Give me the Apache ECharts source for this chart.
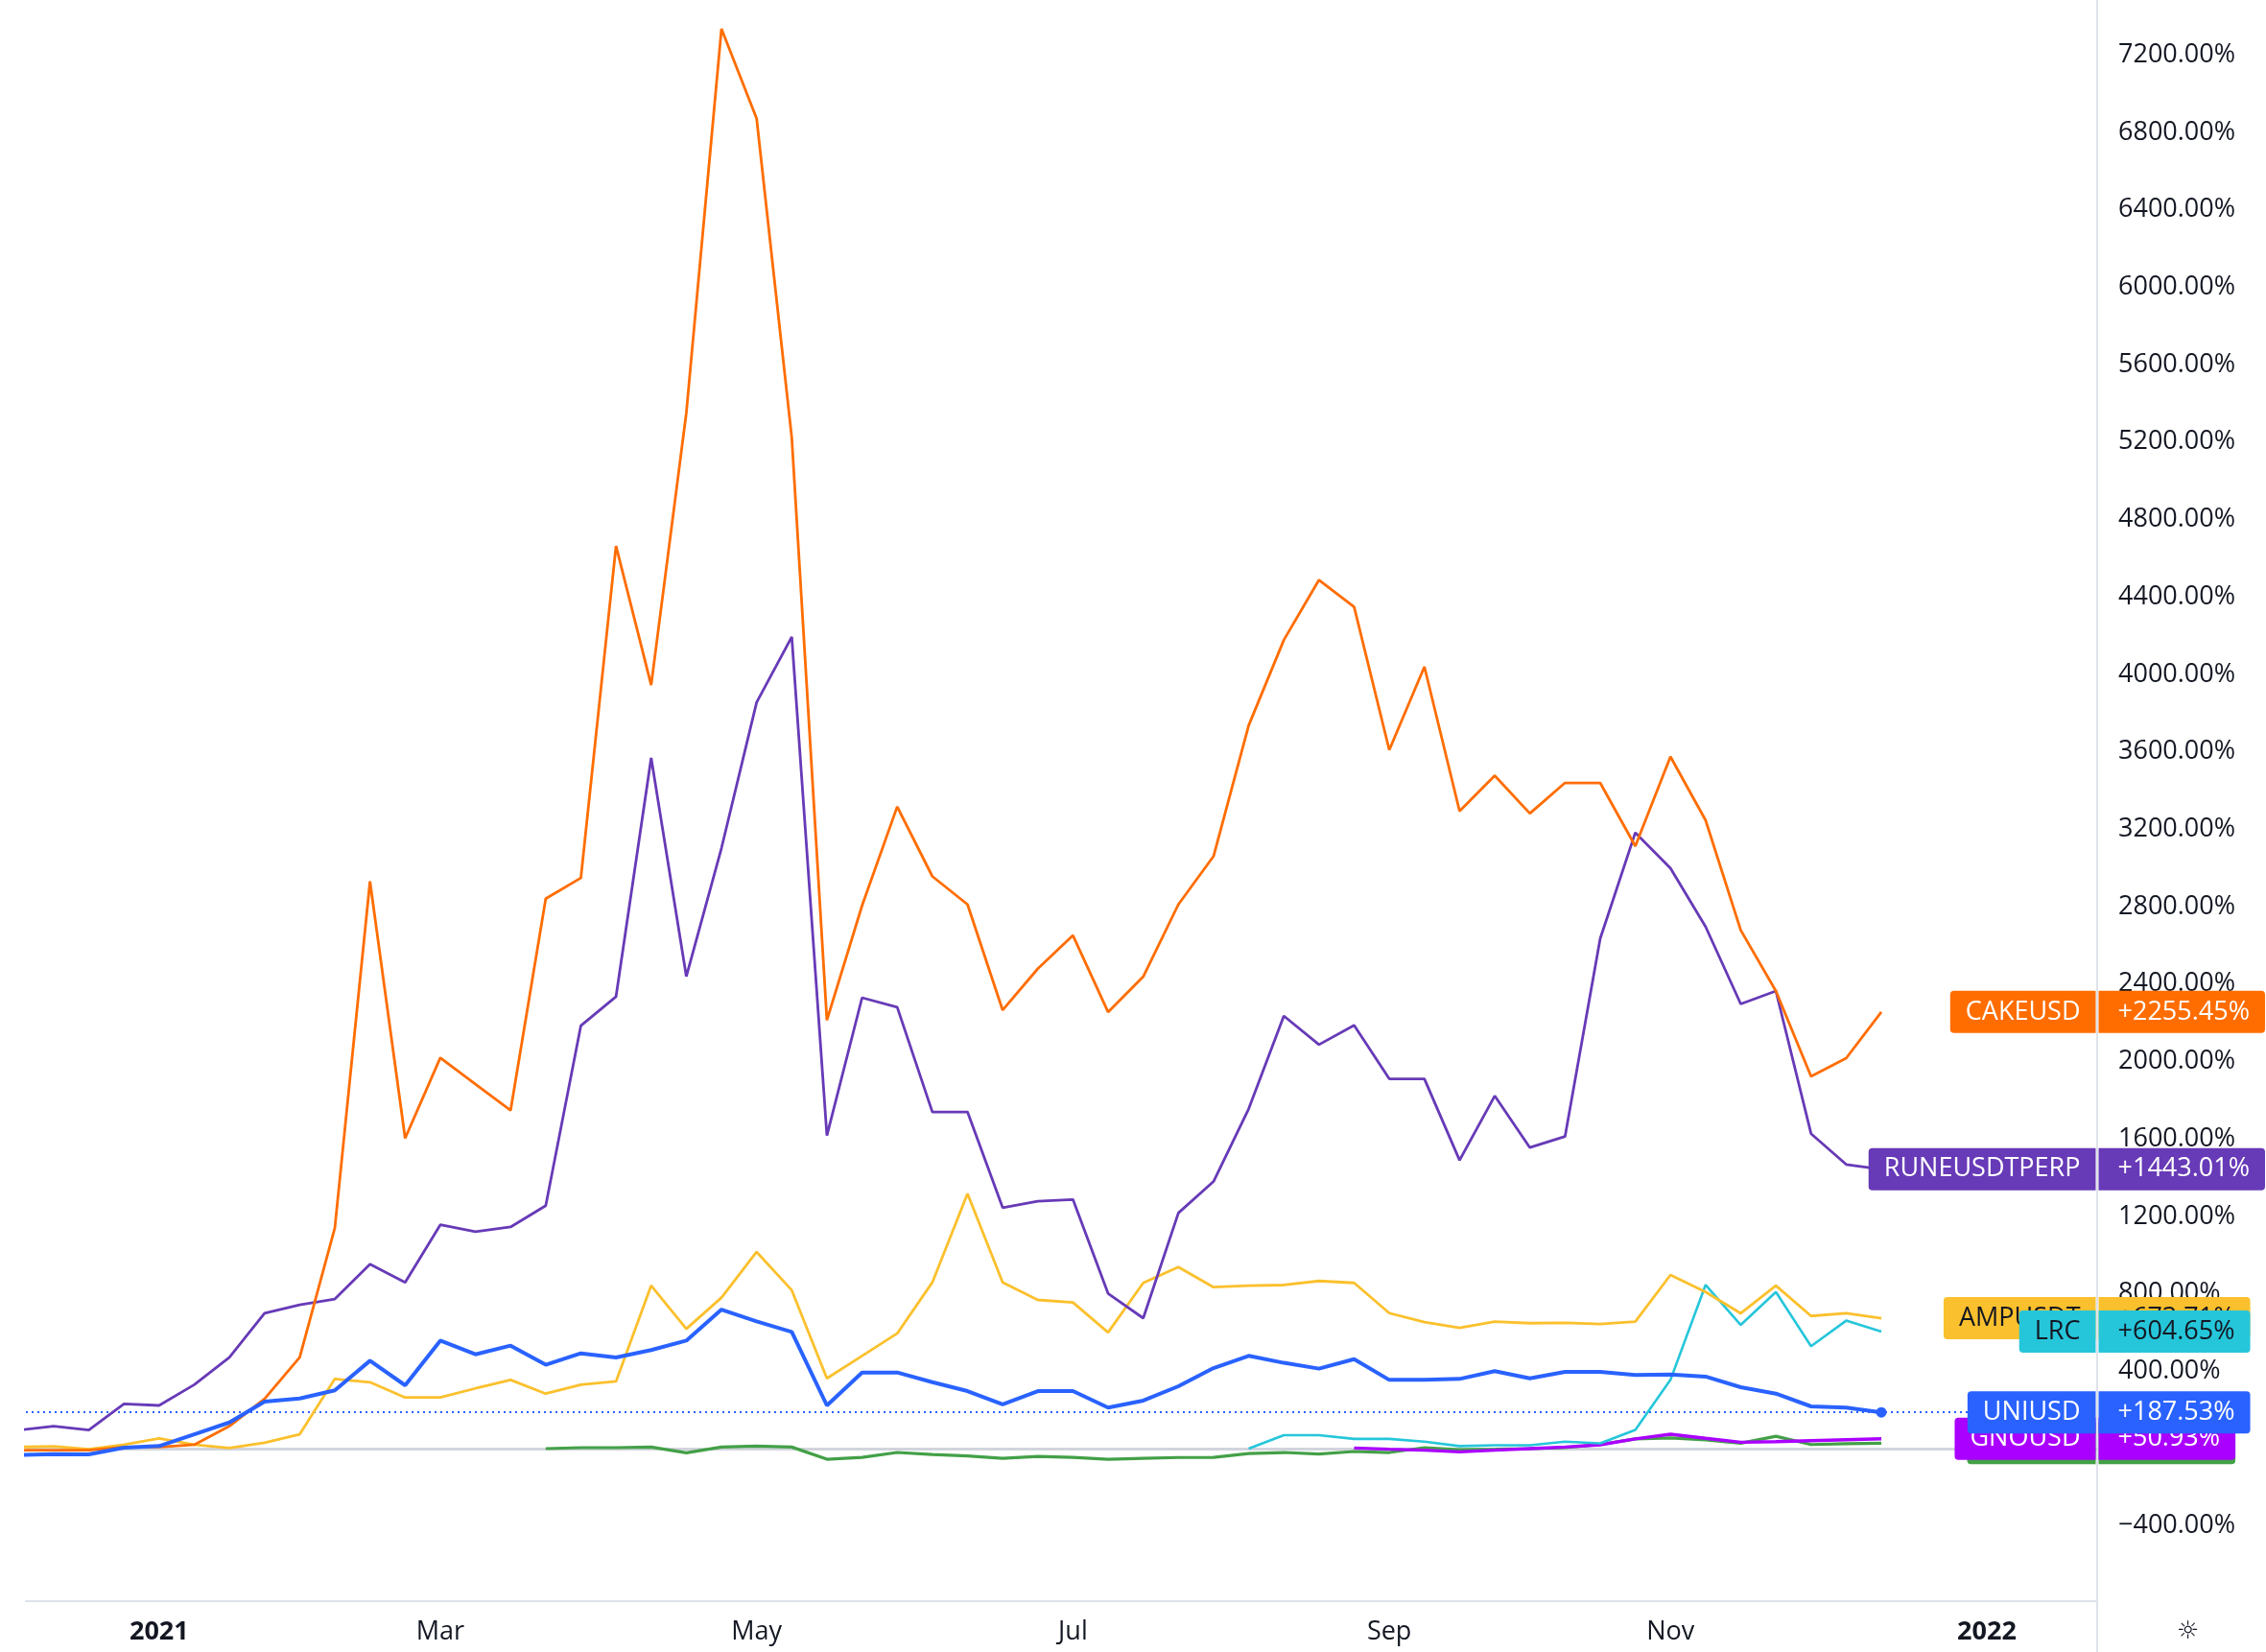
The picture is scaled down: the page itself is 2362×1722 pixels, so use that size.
<!DOCTYPE html>
<html>
<head>
<meta charset="utf-8">
<title>Comparaison hebdomadaire</title>
<script src="https://cdn.jsdelivr.net/npm/echarts@6/dist/echarts.min.js"></script>
<style>
  html, body { margin: 0; padding: 0; background: #ffffff; }
  #chartContainer { width: 2362px; height: 1722px; }
</style>
</head>
<body>
<div id="chartContainer"></div>
<script>
// barres hebdomadaires (lundi de chaque semaine)
const weeks = [
  '2020-12-07', '2020-12-14', '2020-12-21', '2020-12-28',
  '2021-01-04', '2021-01-11', '2021-01-18', '2021-01-25', '2021-02-01', '2021-02-08', '2021-02-15', '2021-02-22',
  '2021-03-01', '2021-03-08', '2021-03-15', '2021-03-22', '2021-03-29', '2021-04-05', '2021-04-12', '2021-04-19',
  '2021-04-26', '2021-05-03', '2021-05-10', '2021-05-17', '2021-05-24', '2021-05-31', '2021-06-07', '2021-06-14',
  '2021-06-21', '2021-06-28', '2021-07-05', '2021-07-12', '2021-07-19', '2021-07-26', '2021-08-02', '2021-08-09',
  '2021-08-16', '2021-08-23', '2021-08-30', '2021-09-06', '2021-09-13', '2021-09-20', '2021-09-27', '2021-10-04',
  '2021-10-11', '2021-10-18', '2021-10-25', '2021-11-01', '2021-11-08', '2021-11-15', '2021-11-22', '2021-11-29',
  '2021-12-06', '2021-12-13'
];

const cakeValues = [
  -8, -8, -8, 8,
  8, 20, 116, 257, 471, 1140, 2930, 1603,
  2019, 1883, 1747, 2841, 2948, 4663, 3944, 5350,
  7334, 6871, 5223, 2213, 2805, 3316, 2956, 2811,
  2265, 2479, 2651, 2255, 2438, 2811, 3060, 3736,
  4177, 4487, 4348, 3609, 4039, 3293, 3476, 3281,
  3439, 3439, 3112, 3574, 3246, 2678, 2364, 1923,
  2017, 2255.45
];

const runeValues = [
  95, 116, 96, 231,
  223, 330, 471, 699, 743, 773, 953, 859,
  1156, 1120, 1145, 1255, 2185, 2335, 3568, 2439,
  3102, 3855, 4193, 1617, 2329, 2280, 1739, 1739,
  1245, 1278, 1287, 801, 674, 1217, 1380, 1755,
  2235, 2087, 2187, 1910, 1910, 1490, 1822, 1555,
  1612, 2634, 3182, 2998, 2696, 2297, 2364, 1627,
  1468, 1443.01
];

const ampValues = [
  8, 12, -3, 20,
  53, 20, 3, 30, 74, 360, 343, 264,
  264, 311, 355, 284, 330, 347, 842, 619,
  780, 1016, 818, 363, 479, 595, 859, 1317,
  859, 768, 755, 600, 856, 938, 834, 842,
  845, 866, 856, 700, 653, 624, 656, 648,
  650, 644, 656, 897, 809, 699, 842, 685,
  699, 673.71
];

const uniValues = [
  -33, -28, -30, 5,
  13, 74, 135, 243, 259, 301, 454, 327,
  558, 487, 532, 433, 492, 471, 509, 558,
  718, 657, 603, 223, 393, 393, 343, 297,
  228, 297, 297, 212, 248, 322, 416, 479,
  443, 413, 462, 355, 355, 360, 400, 363,
  396, 396, 380, 383, 372, 317, 284, 218,
  212, 187.53
];

const lrcValues = [
  null, null, null, null,
  null, null, null, null, null, null, null, null,
  null, null, null, null, null, null, null, null,
  null, null, null, null, null, null, null, null,
  null, null, null, null, null, null, null, 0,
  69, 69, 50, 50, 36, 13, 17, 17,
  36, 27, 97, 355, 846, 639, 809, 529,
  661, 604.65
];

const gnoValues = [
  null, null, null, null,
  null, null, null, null, null, null, null, null,
  null, null, null, null, null, null, null, null,
  null, null, null, null, null, null, null, null,
  null, null, null, null, null, null, null, null,
  null, null, 3, -3, -8, -17, -8, 0,
  8, 20, 50, 74, 53, 33, 36, 41,
  46, 50.93
];

const greenValues = [
  null, null, null, null,
  null, null, null, null, null, null, null, null,
  null, null, null, 0, 5, 5, 8, -22,
  8, 13, 8, -55, -45, -20, -30, -38,
  -50, -40, -45, -55, -50, -46, -45, -25,
  -20, -28, -15, -20, 5, -5, -3, 0,
  5, 21, 50, 55, 45, 28, 64, 21,
  25, 28
];

// graduations
const xTickDates = ['2021-01-04', '2021-03-01', '2021-05-03', '2021-07-05', '2021-09-06', '2021-11-01', '2022-01-03'];
const xTickLabels = ['2021', 'Mar', 'May', 'Jul', 'Sep', 'Nov', '2022'];
const yTicks = [-400, 0, 400, 800, 1200, 1600, 2000, 2400, 2800, 3200, 3600, 4000, 4400, 4800, 5200, 5600, 6000, 6400, 6800, 7200];

const FONT = '"Open Sans", "Noto Sans", sans-serif';
const TEXT = '#131722';
const LINE = '#E0E3EB';

// semaines depuis le 2021-01-04
const origin = Date.parse('2021-01-04');
const toWeek = d => (Date.parse(d) - origin) / (7 * 864e5);
const weekX = weeks.map(toWeek);
const xTicks = xTickDates.map(toWeek);

const xMin = -3.79;
const xMax = 55.14;
const yMin = -788;
const yMax = 7483;

const seriesDefs = [
  { name: '', values: greenValues, color: '#43A047', width: 3.2, text: '#FFFFFF', z: 10, tagWidth: 102 },
  { name: 'GNOUSD', values: gnoValues, color: '#AA00FF', width: 3.4, text: '#FFFFFF', z: 11 },
  { name: 'LRC', values: lrcValues, color: '#26C6DA', width: 2.6, text: TEXT, z: 14 },
  { name: 'AMPUSDT', values: ampValues, color: '#FBC02D', width: 2.8, text: TEXT, z: 13 },
  { name: 'RUNEUSDTPERP', values: runeValues, color: '#673AB7', width: 2.8, text: '#FFFFFF', z: 15 },
  { name: 'CAKEUSD', values: cakeValues, color: '#FF6D00', width: 2.8, text: '#FFFFFF', z: 16 },
  { name: 'UNIUSD', values: uniValues, color: '#2962FF', width: 4, text: '#FFFFFF', z: 12, main: true }
];

function fmtPct(v) {
  return (v < 0 ? '\u2212' : '') + Math.abs(v).toFixed(2) + '%';
}

function tagLabel(def, text, side) {
  let label = {
    show: true,
    position: side,
    distance: 1,
    formatter: text,
    backgroundColor: def.color,
    color: def.text,
    fontFamily: FONT,
    fontSize: 27,
    lineHeight: 30,
    padding: side === 'left' ? [7, 16, 7, 16] : [7, 16, 7, 20],
    borderRadius: side === 'left' ? [4, 0, 0, 4] : [0, 4, 4, 0]
  };
  if (side === 'left' && def.tagWidth) {
    label.width = def.tagWidth;
  }
  return label;
}

let series = seriesDefs.map(def => {
  const last = def.values[def.values.length - 1];
  const lastX = weekX[weekX.length - 1];
  let points = [
    { coord: [xMax, last], symbol: 'rect', symbolSize: 1, itemStyle: { color: 'rgba(0,0,0,0)' },
      label: tagLabel(def, def.name || ' ', 'left') },
    { coord: [xMax, last], symbol: 'rect', symbolSize: 1, itemStyle: { color: 'rgba(0,0,0,0)' },
      label: tagLabel(def, '+' + last.toFixed(2) + '%', 'right') }
  ];
  let s = {
    name: def.name,
    type: 'line',
    data: def.values.map((v, i) => [weekX[i], v === null ? '-' : v]),
    showSymbol: false,
    symbol: 'none',
    lineStyle: { color: def.color, width: def.width },
    itemStyle: { color: def.color },
    z: def.main ? 4 : 2,
    markPoint: { z: def.z, silent: true, animation: false, data: points }
  };
  if (def.main) {
    points.unshift({ coord: [lastX, last], symbol: 'circle', symbolSize: 11,
      itemStyle: { color: def.color }, label: { show: false } });
    s.markLine = {
      silent: true, symbol: ['none', 'none'], animation: false, z: 1,
      label: { show: false },
      lineStyle: { color: def.color, type: [2, 4], width: 2 },
      data: [{ yAxis: last }]
    };
  }
  if (def.name === 'CAKEUSD') {
    s.markLine = {
      silent: true, symbol: ['none', 'none'], animation: false, z: 1,
      label: { show: false },
      lineStyle: { color: '#D1D4DC', type: 'solid', width: 3 },
      data: [{ yAxis: 0 }]
    };
  }
  return s;
});

let chartDom = document.getElementById('chartContainer');
let myChart = echarts.init(chartDom);

let option = {
  animation: false,
  backgroundColor: '#ffffff',
  title: {
    text: '\u263C',
    left: 2264,
    top: 1683,
    textStyle: { fontFamily: '"DejaVu Sans"', fontSize: 26, fontWeight: 'normal', color: TEXT }
  },
  grid: { left: 27, right: 176, top: 0, bottom: 53 },
  xAxis: {
    type: 'value',
    min: xMin,
    max: xMax,
    splitLine: { show: false },
    axisTick: { show: false },
    axisLine: { show: true, onZero: false, lineStyle: { color: LINE, width: 2 } },
    axisLabel: {
      customValues: xTicks,
      margin: 19,
      color: TEXT,
      fontFamily: FONT,
      fontSize: 27,
      formatter: v => {
        let i = xTicks.findIndex(t => Math.abs(t - v) < 1e-6);
        if (i < 0) return '';
        let txt = xTickLabels[i];
        return /^\d{4}$/.test(txt) ? '{b|' + txt + '}' : txt;
      },
      rich: { b: { fontWeight: 'bold', fontFamily: FONT, fontSize: 27, color: TEXT } }
    }
  },
  yAxis: {
    type: 'value',
    position: 'right',
    min: yMin,
    max: yMax,
    splitLine: { show: false },
    axisTick: { show: false },
    axisLine: { show: true, onZero: false, lineStyle: { color: LINE, width: 2 } },
    axisLabel: {
      customValues: yTicks,
      margin: 22,
      color: TEXT,
      fontFamily: FONT,
      fontSize: 27,
      formatter: v => fmtPct(v)
    }
  },
  graphic: [
    { type: 'line', shape: { x1: 2186, y1: 1669, x2: 2186, y2: 1722 }, style: { stroke: LINE, lineWidth: 2 } }
  ],
  series: series
};

myChart.setOption(option);
</script>
</body>
</html>
